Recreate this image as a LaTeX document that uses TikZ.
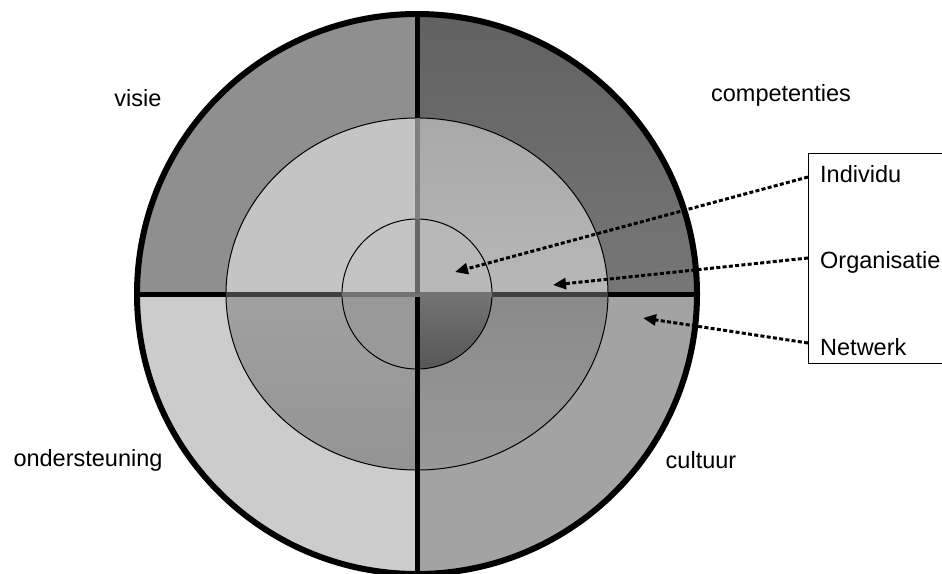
\documentclass[tikz,border=0pt]{standalone}
\usepackage{fontspec}
\setmainfont{Liberation Sans}
\usetikzlibrary{arrows.meta}
\definecolor{oTL}{gray}{0.56}
\definecolor{oBL}{gray}{0.80}
\definecolor{oBR}{gray}{0.64}
\definecolor{mTL}{gray}{0.77}
\definecolor{iTL}{gray}{0.77}
\definecolor{iTR}{gray}{0.72}
\definecolor{iBL}{gray}{0.60}
\definecolor{darkA}{gray}{0.38}
\definecolor{darkB}{gray}{0.55}
\definecolor{midA}{gray}{0.66}
\definecolor{midB}{gray}{0.78}
\definecolor{mblA}{gray}{0.58}
\definecolor{mblB}{gray}{0.68}
\definecolor{mbrA}{gray}{0.48}
\definecolor{mbrB}{gray}{0.60}
\definecolor{ibrA}{gray}{0.34}
\definecolor{ibrB}{gray}{0.56}
\begin{document}
\begin{tikzpicture}[x=1pt,y=-1pt,
  lbl/.style={font=\fontsize{23.5}{28}\selectfont, inner sep=0pt},
  ptr/.style={line width=3pt, dash pattern=on 4pt off 2.3pt,
    -{Triangle[length=13pt,width=11pt]}},
  ring/.style={line width=1pt},
  cross/.style={line width=5pt}]
\useasboundingbox (0,0) rectangle (942,573);
\coordinate (c) at (417,294);
% top-left quadrant
\begin{scope}
  \clip (c) rectangle (0,0);
  \fill[oTL] (c) circle (280);
  \fill[mTL] (c) ellipse [x radius=191, y radius=176];
  \fill[iTL] (c) circle (75);
\end{scope}
% top-right quadrant
\begin{scope}
  \clip (c) rectangle (942,0);
  \shade[shading angle=225, top color=darkA, bottom color=darkB] (c) circle (280);
  \shade[shading angle=225, top color=midA, bottom color=midB] (c) ellipse [x radius=191, y radius=176];
  \fill[iTR] (c) circle (75);
\end{scope}
% bottom-left quadrant
\begin{scope}
  \clip (c) rectangle (0,573);
  \fill[oBL] (c) circle (280);
  \shade[shading angle=90, top color=mblB, bottom color=mblA] (c) ellipse [x radius=191, y radius=176];
  \fill[iBL] (c) circle (75);
\end{scope}
% bottom-right quadrant
\begin{scope}
  \clip (c) rectangle (942,573);
  \fill[oBR] (c) circle (280);
  \shade[shading angle=135, top color=mbrA, bottom color=mbrB] (c) ellipse [x radius=191, y radius=176];
  \shade[shading angle=0, top color=ibrB, bottom color=ibrA] (c) circle (75);
\end{scope}
% ring outlines
\draw[ring] (c) ellipse [x radius=191, y radius=176];
\draw[ring] (c) circle (75);
% cross lines
\begin{scope}
  \clip (c) circle (280);
  \draw[cross] (417,0) -- (417,573);
  \draw[cross] (0,294) -- (942,294);
\end{scope}
\begin{scope}
  \clip (c) ellipse [x radius=191, y radius=176];
  \fill[black!75] (c) ++(-191,-2.5) rectangle ++(382,5);
  \fill[black!50] (c) ++(-2.5,-176) rectangle ++(5,176);
\end{scope}
\begin{scope}
  \clip (c) circle (75);
  \fill[black!55] (c) ++(-75,-2.5) rectangle ++(150,5);
  \fill[black!60] (c) ++(-2.5,-75) rectangle ++(5,75);
\end{scope}
\draw[line width=6pt] (c) circle (280);
% labels
\node[lbl] (visie) at (138,98) {visie};
\node[lbl] (comp) at (781,95) {competenties};
\node[lbl] (onder) at (88,460) {ondersteuning};
\node[lbl] (cult) at (701,460) {cultuur};
% legend box
\draw[line width=0.8pt] (960,153) -- (808,153) -- (808,363) -- (960,363);
\node[lbl, anchor=west] (ind) at (820,174) {Individu};
\node[lbl, anchor=west] (org) at (820,262) {Organisatie};
\node[lbl, anchor=west] (net) at (820,347) {Netwerk};
\coordinate (indS) at (808,177);
\coordinate (orgS) at (808,258);
\coordinate (netS) at (808,343);
\coordinate (indT) at (455,272);
\coordinate (orgT) at (553,285);
\coordinate (netT) at (643,318);
\draw[ptr] (indS) -- (indT);
\draw[ptr] (orgS) -- (orgT);
\draw[ptr] (netS) -- (netT);
\end{tikzpicture}
\end{document}
